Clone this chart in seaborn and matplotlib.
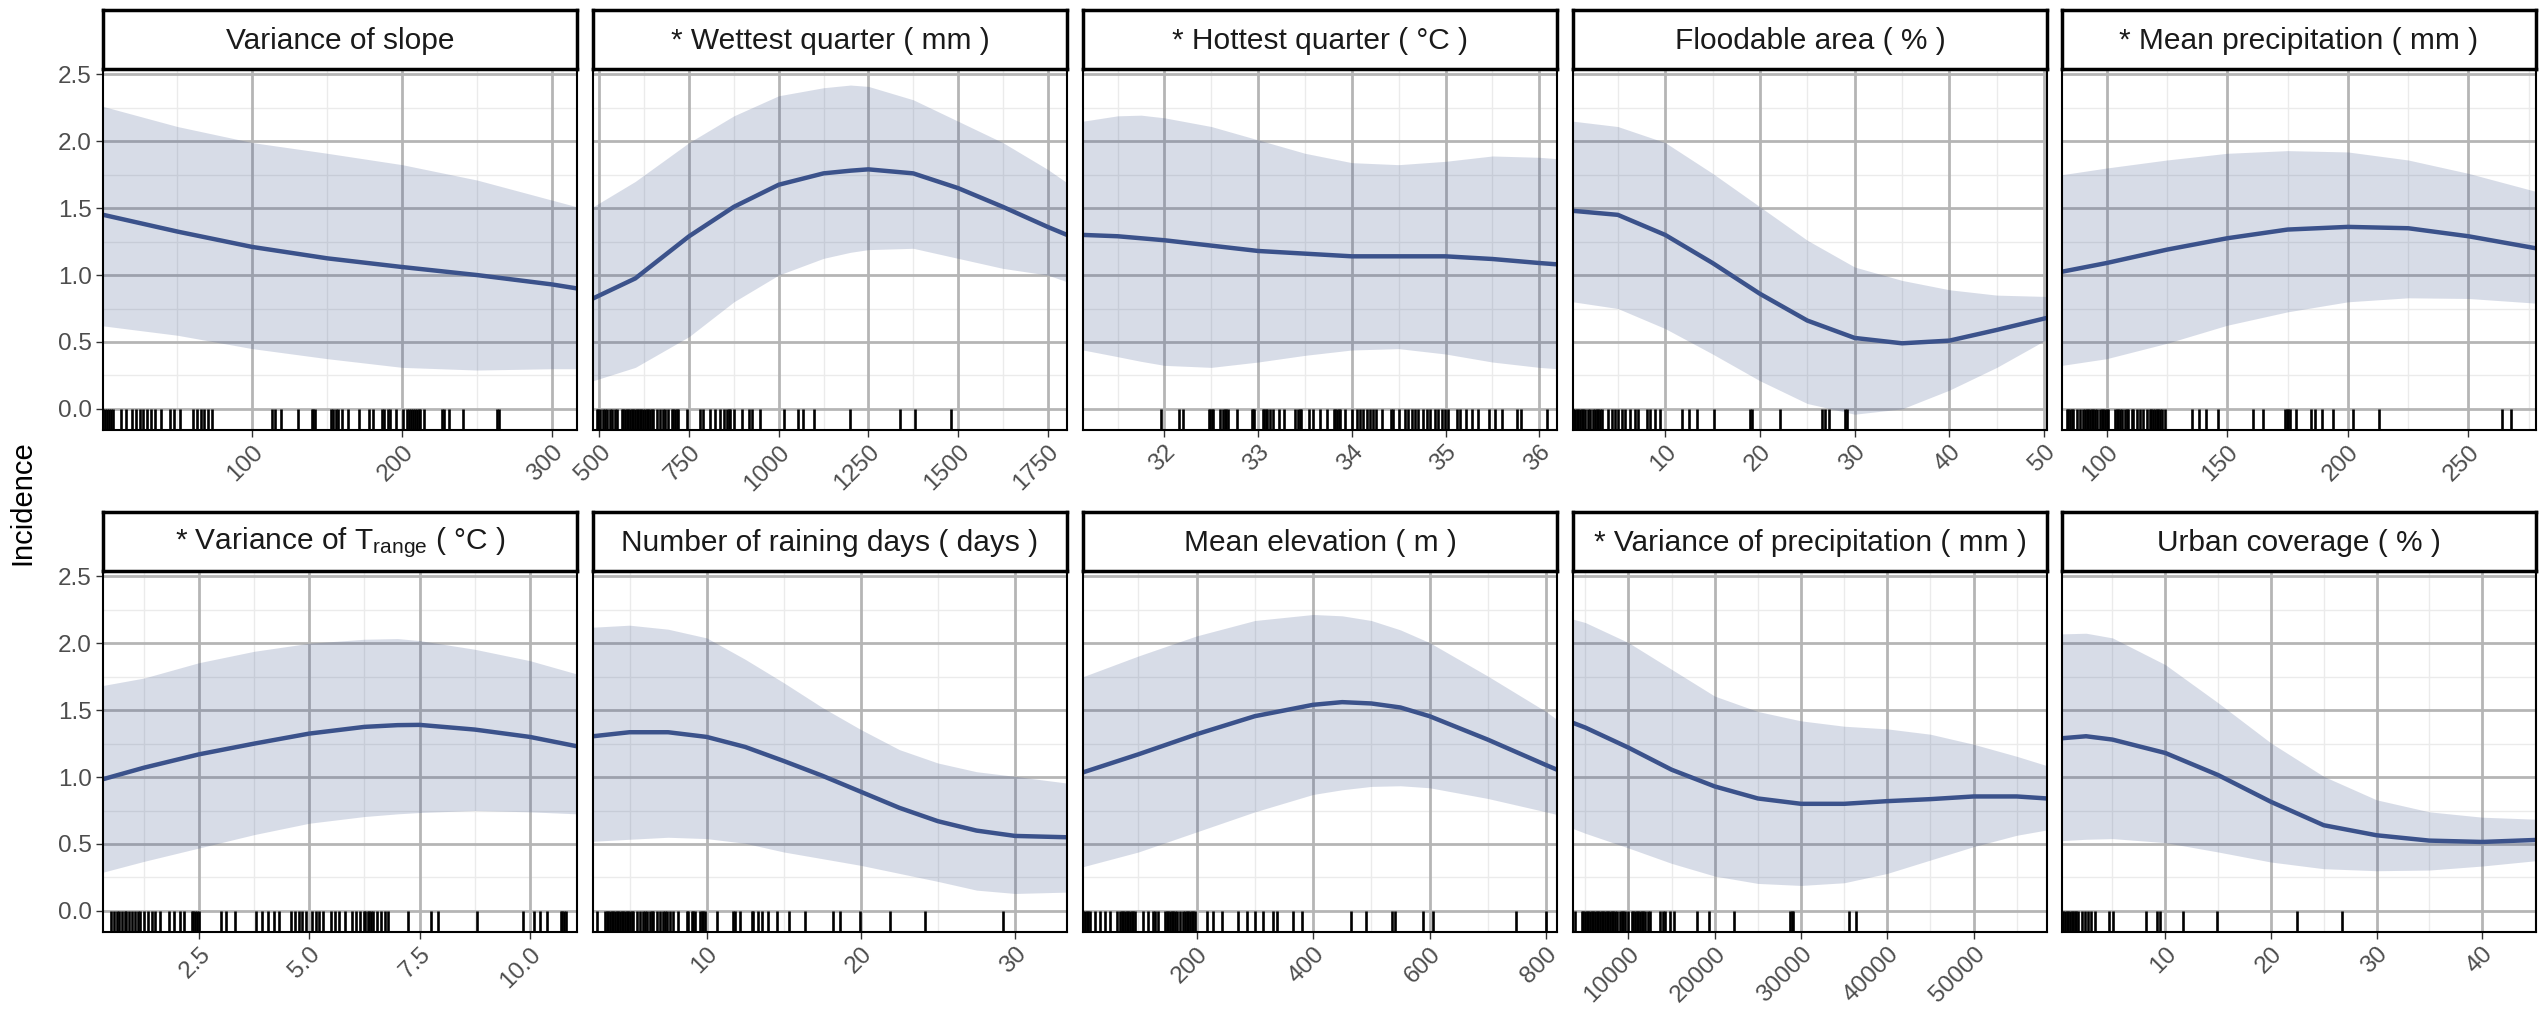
import numpy as np
import matplotlib
matplotlib.use("Agg")
import matplotlib.pyplot as plt
import seaborn as sns

# ---- panel titles ----
titles = [
    "Variance of slope",
    "* Wettest quarter ( mm )",
    "* Hottest quarter ( °C )",
    "Floodable area ( % )",
    "* Mean precipitation ( mm )",
    r"* Variance of $\mathrm{T}_{\mathrm{range}}$ ( °C )",
    "Number of raining days ( days )",
    "Mean elevation ( m )",
    "* Variance of precipitation ( mm )",
    "Urban coverage ( % )",
]

# ---- Variance of slope ----
slope_x = [0.5, 50, 100, 150, 200, 250, 300, 316.7]
slope_fit = [1.45, 1.325, 1.21, 1.125, 1.06, 1.0, 0.93, 0.90]
slope_lo = [0.62, 0.55, 0.45, 0.375, 0.31, 0.29, 0.30, 0.30]
slope_hi = [2.26, 2.11, 1.99, 1.91, 1.825, 1.71, 1.56, 1.51]
slope_rug = [0.5, 1.8, 3, 4.3, 5.6, 6.9, 12, 15.8, 19.6, 22.2, 24.7, 27.3, 29.8, 32.4, 35,
             38.8, 45, 47.7, 51.5, 60.5, 63, 65.6, 68, 70.7, 73.2, 112.8, 115.3, 119.1, 130.6,
             139.5, 140.8, 142, 152.3, 153.6, 156, 157.4, 160, 163.8, 171.4, 177.8, 180.4,
             186.7, 188, 190.6, 191.8, 195.7, 200.8, 203.3, 204.6, 205.9, 207, 208.4, 209.7,
             211, 212.2, 214.8, 226.3, 227.6, 231.4, 240.3, 263.3, 264.5]

# ---- Wettest quarter ----
wet_x = [482, 600, 750, 875, 1000, 1125, 1200, 1250, 1375, 1500, 1625, 1750, 1804]
wet_fit = [0.825, 0.975, 1.29, 1.51, 1.675, 1.76, 1.78, 1.79, 1.76, 1.65, 1.51, 1.36, 1.30]
wet_lo = [0.21, 0.31, 0.54, 0.80, 1.0, 1.125, 1.17, 1.19, 1.20, 1.125, 1.05, 1.0, 0.95]
wet_hi = [1.51, 1.70, 1.99, 2.19, 2.34, 2.40, 2.42, 2.41, 2.31, 2.15, 1.99, 1.79, 1.69]
wet_rug = [493, 497, 502, 511, 516, 521, 530, 534, 544, 548, 562, 566, 571, 576, 580, 585,
           590, 594, 599, 604, 608, 613, 617, 622, 627, 632, 636, 641, 646, 650, 660, 669,
           678, 683, 692, 702, 706, 711, 716, 720, 744, 781, 790, 809, 823, 837, 846, 855,
           860, 865, 874, 897, 916, 925, 948, 1015, 1055, 1069, 1097, 1200, 1339, 1381, 1481]

# ---- Hottest quarter ----
hot_x = [31.13, 31.5, 31.75, 32, 32.5, 33, 33.5, 34, 34.5, 35, 35.5, 36, 36.19]
hot_fit = [1.30, 1.29, 1.275, 1.26, 1.22, 1.18, 1.16, 1.14, 1.14, 1.14, 1.12, 1.09, 1.08]
hot_lo = [0.44, 0.39, 0.355, 0.325, 0.31, 0.35, 0.40, 0.44, 0.45, 0.41, 0.35, 0.31, 0.30]
hot_hi = [2.15, 2.19, 2.195, 2.175, 2.11, 2.01, 1.91, 1.84, 1.825, 1.85, 1.89, 1.88, 1.87]
hot_rug = [31.96, 32.15, 32.20, 32.48, 32.49, 32.51, 32.52, 32.59, 32.62, 32.65, 32.66, 32.68,
           32.77, 32.93, 32.95, 32.96, 33.05, 33.06, 33.08, 33.09, 33.13, 33.16, 33.22, 33.28,
           33.39, 33.43, 33.45, 33.46, 33.54, 33.59, 33.66, 33.73, 33.81, 33.82, 33.84, 33.86,
           33.87, 33.93, 34.00, 34.05, 34.09, 34.12, 34.16, 34.19, 34.23, 34.26, 34.32, 34.42,
           34.44, 34.50, 34.57, 34.60, 34.64, 34.67, 34.71, 34.76, 34.80, 34.83, 34.89, 34.92,
           34.96, 34.99, 35.03, 35.12, 35.15, 35.22, 35.28, 35.35, 35.46, 35.53, 35.60, 35.76,
           35.81, 36.08]

# ---- Floodable area ----
flood_x = [0.27, 5, 10, 15, 20, 25, 30, 35, 40, 45, 50.3]
flood_fit = [1.48, 1.45, 1.30, 1.09, 0.86, 0.66, 0.53, 0.49, 0.51, 0.59, 0.68]
flood_lo = [0.80, 0.75, 0.60, 0.41, 0.21, 0.04, -0.04, 0.0, 0.14, 0.31, 0.52]
flood_hi = [2.15, 2.11, 1.99, 1.76, 1.51, 1.26, 1.06, 0.96, 0.89, 0.85, 0.84]
flood_rug = [0.24, 0.3, 0.48, 0.66, 0.83, 1.01, 1.19, 1.36, 1.54, 1.89, 2.07, 2.42, 2.6, 2.78,
             2.95, 3.13, 3.31, 4.0, 4.36, 4.71, 5.07, 5.42, 5.77, 6.3, 6.83, 7.18, 8.06, 8.41,
             8.94, 9.47, 11.76, 12.47, 13.35, 15.11, 18.99, 19.16, 22.16, 26.57, 26.92, 27.27,
             28.93, 29.14]

# ---- Mean precipitation ----
mprec_x = [81.5, 100, 125, 150, 175, 200, 225, 250, 278]
mprec_fit = [1.025, 1.09, 1.19, 1.275, 1.34, 1.36, 1.35, 1.29, 1.20]
mprec_lo = [0.325, 0.375, 0.49, 0.625, 0.725, 0.80, 0.83, 0.825, 0.79]
mprec_hi = [1.75, 1.80, 1.86, 1.91, 1.93, 1.92, 1.86, 1.76, 1.625]
mprec_rug = [83.4, 84.1, 84.8, 85.5, 86.2, 87.6, 89.0, 90.3, 91.0, 91.7, 92.4, 93.1, 93.8, 94.5,
             95.2, 95.9, 97.2, 97.9, 98.6, 99.3, 100, 100.7, 103.5, 104.1, 104.8, 105.5, 106.2,
             107.6, 108.3, 109, 110.4, 111, 112.4, 113.8, 115.2, 116.6, 118, 118.6, 119.3, 120,
             120.7, 121.4, 122.1, 122.8, 124.2, 135.2, 138.4, 141, 146.3, 160.5, 164.9, 173.9,
             174.6, 175.3, 176, 178.7, 184.9, 186.3, 189.1, 193.9, 202.2, 213, 264, 267.8]

# ---- Variance of Trange ----
trange_x = [0.33, 1.25, 2.5, 3.75, 5.0, 6.25, 7.0, 7.5, 8.75, 10.0, 11.07]
trange_fit = [0.985, 1.07, 1.17, 1.25, 1.325, 1.375, 1.388, 1.39, 1.355, 1.30, 1.23]
trange_lo = [0.29, 0.37, 0.47, 0.57, 0.655, 0.705, 0.725, 0.735, 0.75, 0.74, 0.725]
trange_hi = [1.685, 1.74, 1.855, 1.94, 2.0, 2.03, 2.035, 2.02, 1.955, 1.87, 1.77]
trange_rug = [0.51, 0.57, 0.64, 0.68, 0.75, 0.81, 0.85, 0.92, 0.98, 1.04, 1.11, 1.16, 1.24,
              1.33, 1.42, 1.50, 1.62, 1.81, 1.94, 2.07, 2.15, 2.33, 2.37, 2.41, 2.46, 2.5, 3.0,
              3.11, 3.32, 3.80, 3.93, 4.06, 4.19, 4.32, 4.58, 4.67, 4.76, 4.84, 4.93, 5.06,
              5.15, 5.23, 5.32, 5.49, 5.58, 5.67, 5.80, 5.97, 6.06, 6.14, 6.23, 6.27, 6.32,
              6.36, 6.40, 6.45, 6.53, 6.62, 6.71, 6.79, 7.23, 7.75, 7.92, 8.81, 9.85, 10.09,
              10.22, 10.39, 10.70, 10.74, 10.78, 10.83]

# ---- Number of raining days ----
rain_x = [2.63, 5, 7.5, 10, 12.5, 15, 17.5, 20, 22.5, 25, 27.5, 30, 33.37]
rain_fit = [1.305, 1.335, 1.335, 1.30, 1.225, 1.12, 1.01, 0.89, 0.77, 0.67, 0.60, 0.56, 0.55]
rain_lo = [0.52, 0.535, 0.55, 0.54, 0.505, 0.44, 0.39, 0.34, 0.28, 0.22, 0.155, 0.13, 0.14]
rain_hi = [2.12, 2.135, 2.105, 2.04, 1.88, 1.705, 1.52, 1.355, 1.205, 1.105, 1.04, 1.005, 0.955]
rain_rug = [2.86, 3.41, 3.51, 3.62, 3.73, 3.84, 3.95, 4.05, 4.16, 4.27, 4.38, 4.49, 4.59, 4.70,
            4.81, 4.92, 5.03, 5.14, 5.24, 5.46, 5.68, 5.89, 6.0, 6.11, 6.32, 6.43, 6.54, 6.76,
            6.97, 7.19, 7.30, 7.41, 7.62, 7.84, 8.16, 8.70, 8.81, 9.03, 9.14, 9.24, 9.57, 9.68,
            9.78, 9.89, 10.65, 11.73, 11.84, 12.16, 12.92, 13.03, 13.35, 13.57, 14.0, 14.54,
            15.36, 16.38, 18.22, 18.65, 19.95, 21.89, 24.16, 29.24]

# ---- Mean elevation ----
elev_x = [4.8, 100, 200, 300, 400, 450, 500, 550, 600, 700, 800, 819]
elev_fit = [1.035, 1.17, 1.32, 1.455, 1.54, 1.56, 1.55, 1.52, 1.455, 1.28, 1.09, 1.055]
elev_lo = [0.33, 0.44, 0.59, 0.74, 0.87, 0.905, 0.93, 0.935, 0.92, 0.84, 0.74, 0.72]
elev_hi = [1.75, 1.905, 2.055, 2.17, 2.215, 2.205, 2.17, 2.10, 2.005, 1.755, 1.49, 1.43]
elev_rug = [5.4, 8.3, 11.2, 14, 16.9, 25.5, 34, 42.6, 51.2, 62.7, 68.4, 71.2, 74.1, 77, 79.8,
            82.7, 85.6, 88.4, 91.3, 94.1, 108.4, 117, 125.6, 128.5, 134.2, 145.7, 148.5, 151.4,
            154.2, 157.1, 160, 162.8, 165.7, 171.4, 177.1, 180, 182.8, 185.7, 188.6, 191.4,
            194.3, 197.1, 217.2, 228.6, 242.9, 271.5, 285.8, 300.1, 314.4, 330.5, 337.3, 365.9,
            380.3, 464.4, 490.7, 534.8, 540.5, 589.1, 605.2, 749.4, 800.9]

# ---- Variance of precipitation ----
vprec_x = [3580, 5000, 10000, 15000, 20000, 25000, 30000, 35000, 40000, 45000, 50000, 55000, 58500]
vprec_fit = [1.405, 1.37, 1.22, 1.055, 0.93, 0.84, 0.80, 0.80, 0.82, 0.835, 0.855, 0.855, 0.84]
vprec_lo = [0.615, 0.58, 0.47, 0.355, 0.26, 0.205, 0.19, 0.21, 0.28, 0.38, 0.48, 0.565, 0.605]
vprec_hi = [2.18, 2.155, 2.005, 1.805, 1.605, 1.49, 1.42, 1.38, 1.36, 1.32, 1.245, 1.155, 1.085]
vprec_rug = [3804, 4579, 4773, 4966, 5160, 5353, 5547, 5741, 5934, 6128, 6321, 6515, 6709, 6902,
             7096, 7289, 7483, 7677, 7870, 8064, 8258, 8451, 8645, 9032, 9226, 9419, 9613,
             10000, 10387, 10581, 10774, 10968, 11162, 11355, 11549, 11742, 11936, 12323,
             12517, 13679, 13988, 14259, 14840, 15227, 17938, 19293, 22275, 28780, 28974,
             29090, 35557, 36331]

# ---- Urban coverage ----
urban_x = [0.22, 2.5, 5, 10, 15, 20, 25, 30, 35, 40, 45.1]
urban_fit = [1.29, 1.305, 1.28, 1.18, 1.015, 0.815, 0.64, 0.565, 0.525, 0.515, 0.53]
urban_lo = [0.525, 0.535, 0.54, 0.51, 0.44, 0.365, 0.315, 0.30, 0.305, 0.335, 0.375]
urban_hi = [2.07, 2.075, 2.04, 1.84, 1.555, 1.255, 1.005, 0.83, 0.74, 0.70, 0.685]
urban_rug = [0.18, 0.34, 0.5, 0.65, 0.81, 0.97, 1.13, 1.29, 1.44, 1.54, 1.76, 2.07, 2.39, 2.71,
             2.93, 3.34, 4.70, 5.01, 8.17, 9.18, 9.49, 11.71, 14.86, 22.44, 26.7]

# ---- x axis breaks and limits ----
x_breaks = [
    [100, 200, 300],
    [500, 750, 1000, 1250, 1500, 1750],
    [32, 33, 34, 35, 36],
    [10, 20, 30, 40, 50],
    [100, 150, 200, 250],
    [2.5, 5.0, 7.5, 10.0],
    [10, 20, 30],
    [200, 400, 600, 800],
    [10000, 20000, 30000, 40000, 50000],
    [10, 20, 30, 40],
]
x_limits = [
    (0.3, 316.7), (482, 1804), (31.13, 36.19), (0.27, 50.3), (81.5, 278),
    (0.32, 11.07), (2.63, 33.37), (4.8, 819), (3580, 58500), (0.22, 45.1),
]
y_breaks = [0.0, 0.5, 1.0, 1.5, 2.0, 2.5]

panels = [
    (slope_x, slope_fit, slope_lo, slope_hi, slope_rug),
    (wet_x, wet_fit, wet_lo, wet_hi, wet_rug),
    (hot_x, hot_fit, hot_lo, hot_hi, hot_rug),
    (flood_x, flood_fit, flood_lo, flood_hi, flood_rug),
    (mprec_x, mprec_fit, mprec_lo, mprec_hi, mprec_rug),
    (trange_x, trange_fit, trange_lo, trange_hi, trange_rug),
    (rain_x, rain_fit, rain_lo, rain_hi, rain_rug),
    (elev_x, elev_fit, elev_lo, elev_hi, elev_rug),
    (vprec_x, vprec_fit, vprec_lo, vprec_hi, vprec_rug),
    (urban_x, urban_fit, urban_lo, urban_hi, urban_rug),
]

sns.set_theme(style="white")
plt.rcParams["font.family"] = ["Liberation Sans", "DejaVu Sans"]
plt.rcParams["mathtext.fontset"] = "custom"
plt.rcParams["mathtext.rm"] = "Liberation Sans"
plt.rcParams["mathtext.it"] = "Liberation Sans:italic"

line_col = "#3B528B"
W, H = 2547, 1015
fig = plt.figure(figsize=(W / 100, H / 100), dpi=100)

col_left = [103, 593, 1083, 1573, 2062]
panel_w = 474
row_top = [69, 571]
panel_h = 361
strip_h = 59

for i, (xs, fit, lo, hi, rug) in enumerate(panels):
    r, c = divmod(i, 5)
    left = col_left[c] / W
    bottom = 1 - (row_top[r] + panel_h) / H
    ax = fig.add_axes([left, bottom, panel_w / W, panel_h / H])
    ax.set_facecolor("white")

    # ggplot-like grid: minor lines halfway between the breaks
    xb = x_breaks[i]
    step = xb[1] - xb[0]
    minors = [b - step / 2 for b in xb] + [xb[-1] + step / 2]
    for m in minors:
        ax.axvline(m, color="#EBEBEB", lw=1.0, zorder=0)
    for m in [0.25, 0.75, 1.25, 1.75, 2.25]:
        ax.axhline(m, color="#EBEBEB", lw=1.0, zorder=0)
    for b in xb:
        ax.axvline(b, color="#B5B5B5", lw=2.0, zorder=0.5)
    for b in y_breaks:
        ax.axhline(b, color="#B5B5B5", lw=2.0, zorder=0.5)

    ax.fill_between(xs, lo, hi, color=line_col, alpha=0.2, lw=0, zorder=1)
    sns.lineplot(x=xs, y=fit, ax=ax, color=line_col, linewidth=3.2, zorder=2)
    sns.rugplot(x=rug, ax=ax, height=0.058, color="black", linewidth=1.9, zorder=3)

    ax.set_xlim(*x_limits[i])
    ax.set_ylim(-0.158, 2.54)
    ax.set_xticks(xb)
    ax.set_xticklabels([f"{v:.1f}" if i == 5 else f"{v:g}" for v in xb])
    ax.tick_params(axis="x", length=5, width=1, color="#333333", pad=3,
                   labelsize=17.5, labelcolor="#4D4D4D", bottom=True)
    for lab in ax.get_xticklabels():
        lab.set_rotation(45)
        lab.set_ha("right")
        lab.set_va("top")
        lab.set_rotation_mode("anchor")
    if c == 0:
        ax.set_yticks(y_breaks)
        ax.set_yticklabels([f"{v:.1f}" for v in y_breaks])
        ax.tick_params(axis="y", length=5, width=1, color="#333333", pad=3,
                       labelsize=17.5, labelcolor="#4D4D4D", left=True)
    else:
        ax.set_yticks([])
    ax.set_xlabel("")
    ax.set_ylabel("")
    for s in ax.spines.values():
        s.set_visible(True)
        s.set_color("black")
        s.set_linewidth(1.5)

    # facet strip
    sax = fig.add_axes([left, 1 - (row_top[r]) / H, panel_w / W, strip_h / H])
    sax.set_facecolor("white")
    sax.set_xticks([])
    sax.set_yticks([])
    for s in sax.spines.values():
        s.set_visible(True)
        s.set_color("black")
        s.set_linewidth(2.5)
    sax.text(0.5, 0.48, titles[i], ha="center", va="center", fontsize=21.5,
             color="#1A1A1A", transform=sax.transAxes)

fig.text(22 / W, 1 - 503 / H, "Incidence", rotation=90, ha="center", va="center",
         fontsize=21, color="black")

fig.savefig("out.png", dpi=100, facecolor="white")
